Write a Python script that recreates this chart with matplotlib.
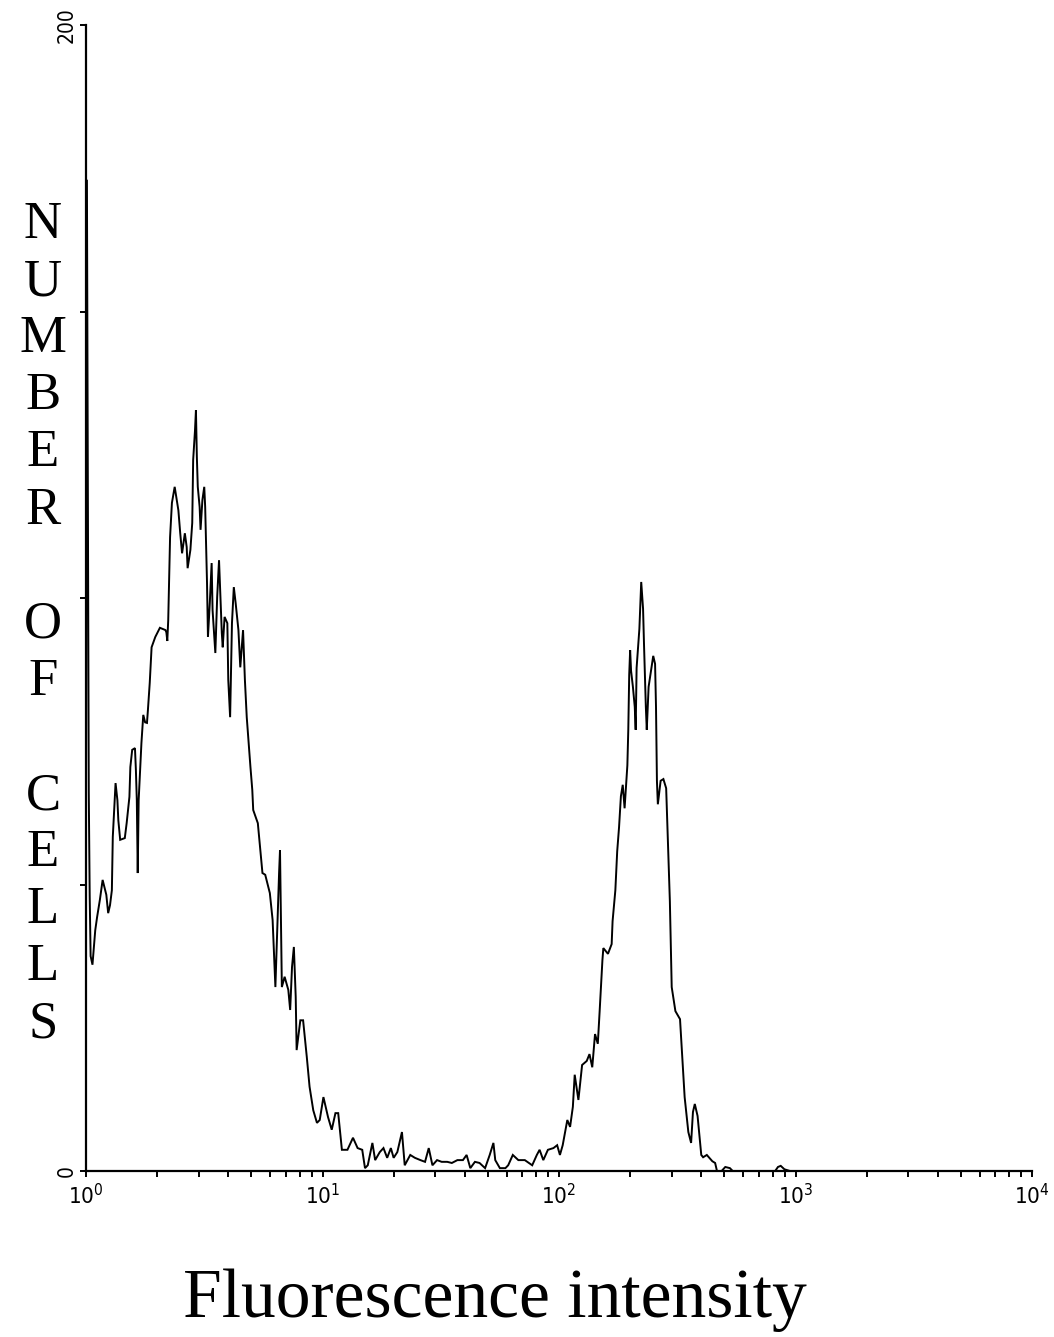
import matplotlib
matplotlib.use("Agg")
import matplotlib.pyplot as plt
import numpy as np
from matplotlib.ticker import LogLocator, NullFormatter

# Flow cytometry histogram: 1024 log channels spanning 4 decades
channels = [0, 1, 2, 3, 4, 5, 7, 10, 12, 15, 18, 22, 24, 26, 28, 29, 31, 32, 34, 35,
            37, 42, 44, 47, 48, 50, 53, 54, 55, 56, 57, 60, 62, 64, 66, 67, 69, 71, 75, 80,
            86, 87, 88, 89, 90, 91, 93, 96, 100, 102, 104, 107, 109, 110, 113, 115, 116, 118, 119, 120,
            121, 123, 124, 126, 128, 129, 130, 131, 132, 134, 136, 137, 140, 142, 144, 147, 148, 150, 153, 154,
            156, 158, 160, 162, 165, 167, 169, 170, 172, 174, 178, 180, 181, 186, 191, 194, 199, 202, 205, 207,
            209, 210, 211, 212, 215, 219, 221, 223, 225, 227, 228, 232, 235, 239, 242, 246, 250, 253, 257, 259,
            262, 266, 270, 273, 277, 283, 289, 294, 299, 302, 305, 310, 313, 318, 322, 326, 330, 333, 337, 342,
            345, 351, 356, 362, 367, 371, 375, 380, 385, 391, 396, 402, 408, 412, 416, 421, 426, 432, 437, 441,
            443, 448, 454, 457, 462, 468, 475, 483, 488, 491, 495, 500, 506, 510, 513, 516, 521, 524, 527, 529,
            533, 537, 542, 545, 548, 551, 554, 556, 559, 560, 565, 569, 570, 573, 575, 577, 579, 581, 583, 586,
            587, 588, 589, 590, 592, 594, 595, 596, 599, 601, 603, 604, 606, 607, 609, 612, 614, 616, 617, 618,
            619, 622, 625, 628, 630, 632, 634, 638, 643, 646, 648, 652, 655, 657, 659, 662, 666, 668, 672, 678,
            681, 683, 688, 692, 697, 700, 746, 749, 752, 756, 762, 1023]

counts = [66.5, 173, 120, 66, 48, 37.5, 36, 42, 44.3, 47.3, 50.8, 48.2, 45, 46.4, 49, 58.3, 64.7, 67.7, 64.7, 61.2,
          57.8, 58.1, 60.7, 65.3, 70.5, 73.5, 73.8, 70, 64.7, 52, 64.7, 74.7, 79.6, 78.3, 78.2, 80.4, 85.2, 91.4, 93.2, 94.8,
          94.4, 94, 92.5, 96.1, 103.7, 110.6, 116.6, 119.4, 115.3, 111.3, 107.8, 111.3, 108.9, 105.2, 108.4, 113.1, 124.1, 129.3, 132.8, 124.6,
          119.4, 115.9, 111.9, 117.1, 119.4, 115.9, 109.6, 102.6, 93.2, 99.1, 106.1, 97.9, 90.4, 100.2, 106.6, 93.9, 91.4, 96.7, 95.6, 85.7,
          79.2, 95.6, 101.9, 99.1, 94.4, 87.9, 92.1, 94.4, 85.7, 79.2, 70.5, 66.5, 63, 60.7, 52, 51.7, 48.5, 43.8, 32.1, 42.1,
          52, 56, 43.8, 32.1, 33.9, 31.6, 28.1, 35.6, 39.1, 30.4, 21.1, 26.3, 26.3, 19.9, 14.7, 10.6, 8.4, 8.9, 12.9, 11.5,
          9.4, 7.2, 10.1, 10.1, 3.7, 3.7, 5.8, 4, 3.7, 0.5, 1, 4.9, 1.9, 3.3, 4, 2.3, 4, 2.3, 3.3, 6.8,
          1, 2.8, 2.3, 1.9, 1.6, 4, 1, 1.9, 1.6, 1.6, 1.4, 1.9, 1.9, 2.8, 0.5, 1.6, 1.4, 0.5, 2.8, 4.9,
          1.9, 0.5, 0.5, 1, 2.8, 1.9, 1.9, 1, 2.8, 3.7, 1.9, 3.7, 4, 4.5, 2.8, 4.5, 8.9, 7.7, 11.2, 16.8,
          12.4, 18.5, 19.2, 20.4, 18.1, 23.9, 22.2, 27.9, 36.8, 38.9, 37.9, 39.6, 43.6, 49, 55.8, 60, 65.4, 67.4, 63.3, 70.8,
          77, 86.6, 90.9, 87.3, 84.5, 81, 77, 87.8, 94.6, 102.8, 98.1, 92, 81, 77, 84.5, 87.8, 89.9, 88.5, 81, 68.1,
          64, 68.1, 68.4, 66.8, 57.2, 47.1, 32.1, 27.9, 26.5, 18.5, 12.9, 6.8, 4.9, 10.3, 11.7, 9.6, 2.8, 2.4, 2.8, 1.7,
          1.4, 0, 0, 0.7, 0.5, 0, 0, 0.7, 0.9, 0.3, 0, 0]

y_ticks = [0, 50, 100, 150, 200]
y_ticklabels = ["0", "", "", "", "200"]
axis_letters = list("NUMBER") + [""] + list("OF") + [""] + list("CELLS")
x_title = "Fluorescence intensity"

intensity = 10 ** (np.array(channels) / 256.0)

W, H = 1054, 1337
fig = plt.figure(figsize=(W / 100, H / 100), dpi=100)
ax = fig.add_axes([86 / W, 166 / H, 946 / W, 1146 / H])

ax.plot(intensity, counts, color="black", lw=1.4, solid_joinstyle="miter")

ax.set_xscale("log")
ax.set_xlim(1, 1e4)
ax.set_ylim(0, 200)

for s in ("top", "right"):
    ax.spines[s].set_visible(False)
for s in ("left", "bottom"):
    ax.spines[s].set_linewidth(1.6)

ax.xaxis.set_major_locator(LogLocator(base=10, numticks=10))
ax.xaxis.set_minor_locator(LogLocator(base=10, subs=np.arange(2, 10), numticks=20))
ax.xaxis.set_minor_formatter(NullFormatter())
ax.tick_params(axis="x", which="both", direction="out", length=4.5, width=1.4, pad=4)
ax.tick_params(axis="y", direction="out", length=4.5, width=1.4, pad=2)

for lab in ax.get_xticklabels():
    lab.set_family("DejaVu Sans")
    lab.set_stretch("condensed")
    lab.set_fontsize(16)

ax.set_yticks(y_ticks)
ax.set_yticklabels(y_ticklabels, rotation=90, va="center", fontsize=15,
                   family="DejaVu Sans", stretch="condensed")

# vertical stacked y-axis label
y0, step = 1 - 225 / H, 57.1 / H
for i, ch in enumerate(axis_letters):
    fig.text(43 / W, y0 - i * step, ch, ha="center", va="center",
             family="Liberation Serif", fontsize=38)

fig.text(495 / W, 1 - 1300 / H, x_title, ha="center", va="center",
         family="Liberation Serif", fontsize=50)

fig.savefig("out.png", dpi=100)
